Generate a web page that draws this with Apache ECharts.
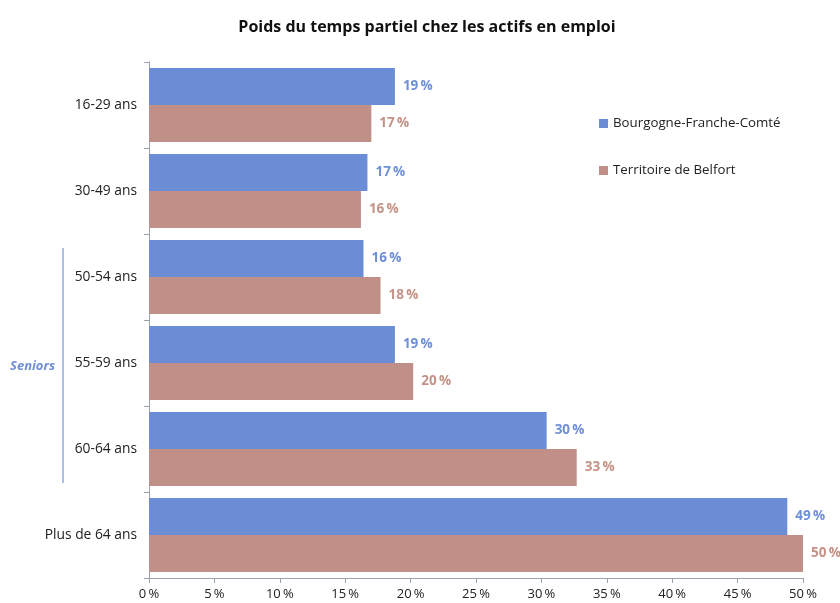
<!DOCTYPE html>
<html>
<head>
<meta charset="utf-8">
<script src="https://cdn.jsdelivr.net/npm/echarts@6/dist/echarts.min.js"></script>
<style>html,body{margin:0;padding:0;background:#fff}#c{width:840px;height:603px}</style>
</head>
<body>
<div id="c"></div>
<script>
const categories = ['16-29 ans', '30-49 ans', '50-54 ans', '55-59 ans', '60-64 ans', 'Plus de 64 ans'];
const seriesNames = ['Bourgogne-Franche-Comté', 'Territoire de Belfort'];
const bfcValues = [18.8, 16.7, 16.4, 18.8, 30.4, 48.8];
const belfortValues = [17.0, 16.2, 17.7, 20.2, 32.7, 50.0];
const xTicks = [0, 5, 10, 15, 20, 25, 30, 35, 40, 45, 50];

const FONT = '"Open Sans", "Noto Sans", sans-serif';
const chart = echarts.init(document.getElementById('c'));
const labelFmt = p => Math.round(p.value) + '\u2009%';
chart.setOption({
  animation: false,
  title: {
    text: 'Poids du temps partiel chez les actifs en emploi',
    left: 422, top: 14, textAlign: 'center',
    textStyle: { fontFamily: FONT, fontSize: 16, fontWeight: 'bold', color: '#111' }
  },
  legend: {
    orient: 'vertical', left: 594, top: 112, itemGap: 34,
    itemWidth: 9, itemHeight: 9, icon: 'rect',
    textStyle: { fontFamily: FONT, fontSize: 13.3, color: '#222' },
    data: seriesNames
  },
  grid: { left: 149, right: 37, top: 62, bottom: 25 },
  xAxis: {
    type: 'value', min: xTicks[0], max: xTicks[xTicks.length - 1], interval: 5,
    axisLine: { show: true, lineStyle: { color: '#9aa3ad' } },
    axisTick: { show: true, length: 5, lineStyle: { color: '#9aa3ad' } },
    splitLine: { show: false },
    axisLabel: { margin: 10, fontFamily: FONT, fontSize: 13, color: '#222', formatter: v => v + '\u2009%' }
  },
  yAxis: {
    type: 'category', data: categories, inverse: true,
    axisLine: { show: true, lineStyle: { color: '#9aa3ad' } },
    axisTick: { show: true, length: 5, lineStyle: { color: '#9aa3ad' } },
    axisLabel: { margin: 12, fontFamily: FONT, fontSize: 13.8, color: '#222' }
  },
  series: [
    {
      name: seriesNames[0], type: 'bar', data: bfcValues,
      barGap: '0%', barCategoryGap: '14%',
      itemStyle: { color: '#6a8dd6' },
      label: { show: true, position: 'right', distance: 8, formatter: labelFmt,
        fontFamily: FONT, fontSize: 13.5, fontWeight: 'bold', color: '#6f8fd6' }
    },
    {
      name: seriesNames[1], type: 'bar', data: belfortValues,
      barGap: '0%', barCategoryGap: '14%',
      itemStyle: { color: '#c08f87' },
      label: { show: true, position: 'right', distance: 8, formatter: labelFmt,
        fontFamily: FONT, fontSize: 13.5, fontWeight: 'bold', color: '#c59286' }
    }
  ],
  graphic: [
    { type: 'line', shape: { x1: 63, y1: 248, x2: 63, y2: 483 },
      style: { stroke: '#8fa9dc', lineWidth: 1.5 } },
    { type: 'text', left: 10, top: 360,
      style: { text: 'Seniors', fontFamily: FONT, fontSize: 13, fontStyle: 'italic', fontWeight: 'bold', fill: '#6f8fd6' } }
  ]
});
</script>
</body>
</html>
